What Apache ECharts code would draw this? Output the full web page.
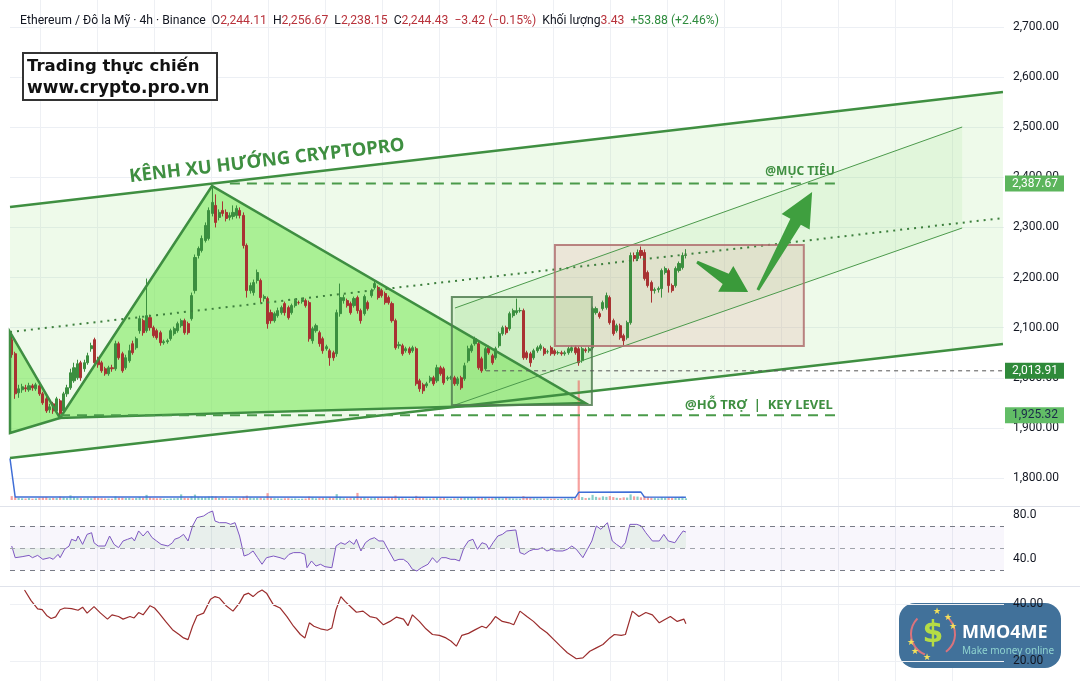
<!DOCTYPE html>
<html><head><meta charset="utf-8">
<script src="https://cdn.jsdelivr.net/npm/echarts@6/dist/echarts.min.js"></script>
<style>html,body{margin:0;padding:0;background:#fff}#c{width:1080px;height:681px}</style>
</head><body><div id="c"></div>
<script>
// ---------- DATA ----------
const candleOpen = [2076,2048,1970,1976,1980,1976,1984,1978,1984,1968,
1958,1936,1948,1934,1954,1934,1968,1980,1994,2000,
2030,2018,2030,2058,2076,2038,2030,2018,2008,2020,
2018,2068,2048,2020,2034,2068,2060,2094,2114,2094,
2120,2100,2094,2090,2070,2072,2078,2088,2094,2104,
2114,2108,2118,2174,2244,2254,2274,2278,2328,2344,
2320,2334,2330,2320,2322,2324,2334,2324,2264,2174,
2170,2194,2194,2158,2158,2130,2114,2124,2130,2148,
2140,2130,2144,2150,2152,2154,2150,2074,2094,2090,
2078,2058,2054,2050,2048,2128,2154,2154,2148,2144,
2160,2134,2128,2150,2164,2180,2180,2174,2168,2160,
2148,2114,2064,2064,2054,2058,2054,2058,1994,1986,
1984,1994,2000,1994,2020,2018,1998,2000,2000,1988,
2000,1998,2034,2054,2068,2068,2038,2018,2060,2044,
2040,2064,2088,2100,2098,2124,2130,2134,2134,2050,
2048,2040,2054,2058,2058,2052,2060,2054,2050,2050,
2048,2050,2054,2060,2058,2034,2056,2054,2060,2130,
2128,2138,2140,2160,2114,2094,2104,2084,2080,2110,
2244,2238,2254,2250,2210,2190,2174,2176,2178,2210,
2214,2184,2184,2214,2220,2244.11];
const candleClose = [2046,1968,1978,1982,1978,1984,1980,1986,1968,1950,
1934,1942,1934,1958,1928,1968,1980,2010,2020,2028,
2000,2030,2044,2064,2030,2026,2014,2008,2020,2018,
2068,2040,2014,2040,2054,2050,2078,2118,2090,2124,
2100,2084,2080,2070,2072,2074,2094,2098,2108,2114,
2090,2090,2164,2240,2258,2278,2304,2334,2350,2310,
2330,2328,2318,2324,2330,2338,2324,2264,2174,2184,
2190,2210,2160,2162,2108,2114,2128,2134,2140,2130,
2120,2144,2154,2150,2156,2144,2078,2098,2104,2068,
2054,2062,2040,2040,2130,2160,2160,2144,2130,2158,
2134,2114,2162,2138,2174,2188,2160,2164,2150,2150,
2114,2060,2066,2048,2058,2050,2060,1988,1978,1974,
1988,2000,1988,2020,2008,1990,2000,2000,1988,1998,
1980,2024,2058,2064,2078,2020,2014,2058,2050,2030,
2058,2088,2100,2090,2128,2134,2134,2134,2040,2040,
2030,2054,2060,2064,2048,2052,2048,2048,2050,2048,
2050,2058,2060,2050,2030,2058,2054,2058,2138,2138,
2122,2150,2164,2110,2088,2104,2080,2074,2110,2244,
2238,2250,2244,2198,2184,2174,2176,2178,2214,2218,
2184,2174,2218,2228,2244,2244.43];
const candleLow = [2040,1958,1960,1970,1972,1972,1974,1974,1964,1946,
1930,1930,1928,1930,1918,1930,1962,1976,1990,1996,
1994,2012,2026,2052,2024,2020,2010,2004,2004,2012,
2014,2036,2010,2016,2030,2046,2056,2088,2084,2090,
2094,2080,2076,2064,2066,2068,2074,2084,2090,2100,
2086,2086,2114,2168,2238,2250,2270,2274,2322,2300,
2314,2322,2312,2314,2316,2318,2318,2258,2160,2168,
2164,2188,2150,2152,2098,2108,2110,2120,2126,2124,
2116,2126,2140,2146,2148,2140,2072,2068,2090,2062,
2048,2054,2024,2034,2042,2122,2148,2140,2126,2140,
2128,2108,2124,2134,2160,2176,2156,2160,2146,2146,
2110,2056,2058,2044,2050,2046,2050,1984,1972,1968,
1980,1990,1984,1990,2004,1986,1994,1996,1984,1984,
1976,1994,2030,2050,2064,2016,2010,2014,2046,2026,
2036,2060,2084,2086,2094,2120,2126,2130,2036,2036,
2022,2036,2050,2054,2044,2048,2044,2044,2046,2044,
2044,2046,2050,2046,2024,2030,2050,2050,2056,2126,
2118,2134,2136,2106,2084,2090,2076,2064,2076,2106,
2232,2234,2238,2194,2180,2150,2168,2170,2160,2206,
2170,2170,2180,2210,2216,2238.15];
const candleHigh = [2084,2052,1986,1988,1986,1990,1988,1990,1988,1972,
1962,1948,1952,1962,1958,1972,1986,2018,2030,2036,
2034,2036,2050,2070,2080,2042,2034,2022,2024,2026,
2074,2072,2052,2046,2066,2074,2082,2124,2118,2198,
2126,2104,2098,2094,2076,2078,2098,2102,2112,2118,
2118,2112,2170,2246,2262,2284,2310,2340,2380,2366,
2336,2352,2336,2330,2344,2344,2340,2330,2268,2190,
2196,2216,2198,2166,2162,2136,2132,2140,2144,2152,
2144,2148,2158,2154,2160,2158,2154,2102,2108,2094,
2082,2066,2058,2054,2136,2188,2166,2158,2152,2162,
2164,2138,2166,2154,2178,2194,2184,2178,2172,2164,
2152,2118,2072,2068,2062,2062,2064,2062,1998,1990,
1992,2004,2004,2026,2024,2022,2004,2004,2004,2002,
2004,2030,2064,2068,2082,2072,2042,2062,2064,2048,
2062,2092,2104,2104,2132,2138,2158,2140,2138,2054,
2052,2058,2064,2068,2062,2056,2064,2058,2054,2054,
2054,2062,2064,2064,2062,2062,2060,2062,2142,2142,
2132,2154,2170,2164,2118,2108,2108,2088,2114,2250,
2250,2256,2262,2256,2214,2194,2180,2182,2218,2222,
2218,2188,2222,2232,2250,2256.67];
const volume = [3.2,2.6,1.8,1.4,1.2,1.6,1.1,1.3,1.9,2.2,
2.4,1.5,1.8,1.6,2.8,2.2,1.7,3.8,2.4,1.9,
1.6,1.4,1.8,1.5,2.6,1.7,1.5,1.3,1.2,1.1,
2.9,2.1,2.0,1.6,1.8,1.4,1.6,2.4,2.0,4.2,
2.2,1.6,1.4,1.5,1.1,1.0,1.3,1.4,1.6,4.6,
1.8,1.5,3.0,4.4,2.6,2.2,2.4,2.8,3.2,2.9,
1.8,1.6,1.4,1.2,1.3,1.5,1.4,2.6,3.6,2.0,
1.6,1.8,1.9,1.4,5.6,2.0,1.5,1.3,1.2,1.4,
1.5,1.2,1.3,1.0,1.1,1.2,2.8,2.0,1.4,1.8,
1.9,1.5,2.1,1.6,4.8,2.6,1.5,1.4,1.6,1.7,
5.8,1.9,2.2,1.4,1.6,1.8,1.7,1.5,1.4,1.6,
2.4,3.6,1.6,1.5,1.2,1.1,1.3,3.4,2.2,1.9,
1.4,1.3,1.5,1.9,1.6,1.8,1.2,1.1,1.3,1.4,
2.0,2.2,2.3,1.6,1.8,2.4,1.9,1.7,1.4,1.5,
1.7,1.6,1.4,1.9,1.5,1.3,1.2,1.1,3.2,1.8,
1.6,1.4,1.3,1.2,1.1,1.2,1.0,1.1,0.9,1.0,
1.1,1.2,1.3,1.5,98,2.4,1.6,1.8,4.2,2.6,
2.0,3.0,2.6,3.2,2.4,1.8,1.6,2.2,2.0,4.6,
3.0,2.8,2.2,3.4,2.6,2.0,1.6,1.4,2.4,1.8,
2.2,1.6,2.0,1.8,2.6,1.4];
const volumeMA = [[-0.5,34],[1,2.4],[60,2.4],[120,2.2],[163,2.0],[164,6.3],[182,6.5],[183,2.4],[195,2.3]];
const rsiPoints = [[0,51.8],[1,41.2],[3,42.1],[5,43.3],[6,41.2],[7.5,43.3],[9,39.7],[11,41.2],[12,39.7],[13.4,44.2],[14,41.2],[15.3,48.8],[16.6,51.8],[17.3,57.9],[18.6,56.4],[19.2,60.9],[20.5,53.3],[21.8,62.4],[23.1,63.9],[23.8,54.8],[25,51.8],[27,51.8],[28.3,60.9],[29.6,53.3],[30.9,50.3],[32.2,56.4],[33.5,57.9],[34.8,59.4],[35.5,56.4],[36.7,65.5],[38,60.9],[39.3,65.5],[40.6,59.4],[41.9,56.4],[43.2,53.3],[45.2,51.8],[46.5,54.8],[47.1,57.9],[48.4,59.4],[49.7,62.4],[51,56.4],[52.3,70],[53.6,77.6],[55.5,79.1],[56.9,82.1],[58.1,83.6],[58.8,74.5],[60.1,73],[62,73],[63.3,71.5],[64.6,73],[65.9,60.9],[67.2,42.7],[68.5,44.2],[69.8,47.3],[71.1,41.2],[72.4,35.2],[73.7,41.2],[75.7,42.7],[77.6,41.2],[78.9,39.7],[80.2,44.2],[81.5,45.8],[83.5,45.8],[84.8,44.2],[85.4,32.1],[86.7,38.2],[88,33.6],[89.3,35.2],[90.6,33],[92.6,32.1],[93.8,51.8],[95.2,54.8],[96.4,53.3],[97.7,56.4],[99,53.3],[99.7,57.9],[101,47.3],[102.3,54.8],[103.6,57.9],[104.9,59.4],[106.2,56.4],[107.5,56.4],[108.8,48.8],[110.7,38.2],[112,39.7],[113.3,39.7],[114.6,36.7],[115.9,30.6],[117.2,29.1],[118.5,32.1],[120.4,35.2],[121.7,41.2],[123,36.7],[124.3,41.2],[125.6,41.2],[127,39.7],[128.2,39.7],[129.5,38.2],[130.8,50.3],[132.1,56.4],[133.4,57.9],[134.7,48.8],[136,54.8],[137.3,53.3],[138,48.8],[139.2,54.8],[140.6,60.9],[141.9,62.4],[143.2,65.5],[145.8,66.4],[147,45.8],[148.3,44.2],[149.7,47.3],[151,48.8],[152.2,48.8],[153.5,50.3],[154.8,47.3],[156.1,48.8],[157.4,47.3],[159.4,47.3],[160.7,48.8],[162,51.8],[163.3,48.8],[165.2,41.2],[166.5,48.8],[167.8,56.4],[169.1,70],[170.4,67],[172.3,73],[173.7,56.4],[174.9,53.3],[176.3,50.3],[177.5,54.8],[178.8,71.5],[180.8,71.5],[182.1,70],[183.4,63.9],[185.3,56.4],[187.3,56.4],[188.6,62.4],[189.9,56.4],[191.8,54.8],[193.1,60.9],[194.2,65.5],[195,64.5]];
const oscPoints = [[3.7,44.9],[5.6,41.2],[7.5,38.3],[8.8,38],[10.1,36],[11.4,34.9],[12.7,35.5],[14,38],[15.3,38.6],[17.3,38.4],[19.2,37.8],[20.5,38.9],[21.8,36.8],[23.8,39.1],[25.7,36.8],[27.7,34.7],[29,36.2],[30.9,35.6],[32.2,34.7],[34.2,35.6],[35.4,35.1],[36.7,37],[38,36.2],[40,39.4],[41.3,38.6],[42.6,36.8],[44.5,33.9],[46.5,31],[48.4,29.3],[49.7,28.1],[51,27.5],[52.3,32.2],[53.6,35.9],[55.5,36.8],[57.5,41.7],[58.8,42.6],[60.1,42.1],[62,39.4],[64,37.5],[65.9,40.4],[67.2,43.2],[68.5,43.8],[69.8,42.6],[71.1,44],[72.4,44.9],[73.7,43.8],[75.7,39.7],[77.6,38.6],[79.6,35.6],[81.5,32.2],[83.5,29.3],[84.8,28.1],[86.1,33.4],[87.4,32.2],[89.3,31.3],[91.3,30.8],[92.6,31.6],[93.8,38],[95.2,42.6],[96.4,40.9],[98.4,38.6],[99.7,37.1],[101.6,37.5],[103.6,35.6],[105.5,35.1],[107.5,32.7],[109.4,33.9],[111.3,35.4],[113.3,34.7],[114.6,32.4],[115.9,36.2],[117.9,33.9],[119.8,31.3],[121.7,29.3],[123.7,29],[125.6,28.1],[127,27],[128.6,25.2],[130.2,29],[132.1,29.7],[134.1,31],[136,32.2],[137.3,31.6],[138.6,33.4],[139.9,35.6],[141.9,33.9],[143.8,33.4],[145.2,32.7],[147,37.5],[149,35.6],[150.9,33.9],[152.9,31.6],[154.8,29.9],[156.8,27.5],[158.7,25.2],[160.7,22.9],[163.3,20.8],[165.2,21.1],[167.2,23.4],[169.1,24.6],[171,25.8],[173,28.1],[174.3,29.3],[176.3,29],[177.5,29.3],[179.5,37.5],[181.4,35.6],[183.4,37],[185.3,36.2],[187.3,33.4],[188.8,34.5],[190.5,35.6],[192.5,33.9],[194.4,34.7],[195,33.1]];

// drawings, in (bar slot, price)
const channelUpper = [[-0.5,2340.8],[286.7,2570.3]];
const channelLower = [[-0.5,1840.0],[286.7,2067.5]];
const midLine = [[-0.5,2091.3],[286.7,2318.8]];
const thinUpper = [[128.2,2139.2],[274.9,2500.4]];
const thinLower = [[128.2,1945.7],[274.9,2298.9]];
const leftTriangle = [[-0.5,2091.3],[13.96,1919.7],[-0.5,1889.8]];
const mainTriangle = [[13.96,1919.7],[57.93,2382.7],[165.8,1949.7]];
const greenBox = [[127.3,2161.2],[167.8,1945.7]];
const redBox = [[157.1,2265.0],[229.1,2063.4]];
const targetLevel = {price:2387.67, from:63.1, to:239.0};
const supportLevel = {price:1925.32, from:13.96, to:239.0};
const keyLevel = {price:2013.91, from:137.2, to:286.7};
const arrowDown = [[198.2,2231.0],[213.0,2171.2]];
const arrowUp = [[215.8,2175.2],[231.5,2370.7]];
const channelTitle = {text:'KÊNH XU HƯỚNG CRYPTOPRO', at:[73.8,2432.6]};
const targetLabel = {text:'@MỤC TIÊU', at:[228.0,2410.6]};
const supportLabel = {text:'@HỖ TRỢ  |  KEY LEVEL', at:[216.1,1945.7]};

// ---------- CHART ----------
const chart = echarts.init(document.getElementById('c'));
const UP='#3b8f3f', DOWN='#a83232';
const fmt2 = v => v.toLocaleString('en-US',{minimumFractionDigits:2,maximumFractionDigits:2});
const candles = candleOpen.map((o,i)=>[i,o,candleClose[i],candleLow[i],candleHigh[i]]);
const volData = volume.map((v,i)=>({value:[i,v],itemStyle:{color: candleClose[i]>=candleOpen[i]?'rgba(38,166,154,0.55)':'rgba(239,83,80,0.55)'}}));

function arrowPts(t,p,headLen,headHalf,tailHalf,neckHalf){
  const dx=p[0]-t[0], dy=p[1]-t[1], L=Math.hypot(dx,dy), ux=dx/L, uy=dy/L, nx=-uy, ny=ux;
  const bx=p[0]-ux*headLen, by=p[1]-uy*headLen;
  return [[t[0]+nx*tailHalf,t[1]+ny*tailHalf],[bx+nx*neckHalf,by+ny*neckHalf],[bx+nx*headHalf,by+ny*headHalf],[p[0],p[1]],
          [bx-nx*headHalf,by-ny*headHalf],[bx-nx*neckHalf,by-ny*neckHalf],[t[0]-nx*tailHalf,t[1]-ny*tailHalf]];
}

const xCommon = {type:'value', min:-0.5, max:287, show:false};
const gb = {outerBoundsMode:'none', containLabel:false};
const HF = '12.2px Roboto';

const option = {
  animation:false,
  backgroundColor:'#ffffff',
  grid:[
    Object.assign({left:10, right:76, top:-23.11, bottom:152.89}, gb),
    Object.assign({left:10, right:76, top:378, bottom:181}, gb),
    Object.assign({left:10, right:76, top:471, bottom:78}, gb),
    Object.assign({left:10, right:76, top:547, bottom:-37}, gb),
    Object.assign({left:-17, right:76, top:0, bottom:0}, gb)
  ],
  xAxis:[
    Object.assign({gridIndex:0},xCommon),
    Object.assign({gridIndex:1},xCommon),
    Object.assign({gridIndex:2},xCommon),
    Object.assign({gridIndex:3},xCommon),
    {gridIndex:4, type:'value', min:0, max:17.912, interval:1, axisLine:{show:false}, axisTick:{show:false}, axisLabel:{show:false},
     splitLine:{show:true, showMinLine:false, showMaxLine:false, lineStyle:{color:'#eef0f4', width:1}}}
  ],
  yAxis:[
    {gridIndex:0, type:'value', position:'right', min:1700, max:2800, interval:100,
     axisLine:{show:false}, axisTick:{show:false},
     axisLabel:{showMinLabel:false, showMaxLabel:false, margin:9, color:'#131722', fontFamily:'Roboto', fontSize:12, formatter:fmt2},
     splitLine:{show:true, showMinLine:false, showMaxLine:false, lineStyle:{color:'#eceff4'}}},
    {gridIndex:1, type:'value', min:0, max:100, show:false},
    {gridIndex:2, type:'value', position:'right', min:0, max:120, interval:40,
     axisLine:{show:false}, axisTick:{show:false}, splitLine:{show:false},
     axisLabel:{showMinLabel:false, showMaxLabel:false, margin:9, color:'#131722', fontFamily:'Roboto', fontSize:12, formatter:v=>v.toFixed(1)}},
    {gridIndex:3, type:'value', position:'right', min:0, max:60, interval:20, z:10,
     axisLine:{show:false}, axisTick:{show:false},
     axisLabel:{showMinLabel:false, showMaxLabel:false, margin:9, color:'#131722', fontFamily:'Roboto', fontSize:12, formatter:v=>v.toFixed(2)},
     splitLine:{show:true, showMinLine:false, showMaxLine:false, lineStyle:{color:'#eef0f4'}}},
    {gridIndex:4, type:'value', show:false}
  ],
  graphic:[
    {type:'line', z:50, shape:{x1:0,y1:506.5,x2:1080,y2:506.5}, style:{stroke:'#e0e3eb', lineWidth:1}},
    {type:'line', z:50, shape:{x1:0,y1:586.5,x2:1080,y2:586.5}, style:{stroke:'#e0e3eb', lineWidth:1}},
    {type:'text', z:60, x:20, y:21, style:{
      text:'{d|Ethereum / Đô la Mỹ · 4h · Binance}  {d|O}{r|2,244.11}  {d|H}{r|2,256.67}  {d|L}{r|2,238.15}  {d|C}{r|2,244.43}  {r|−3.42 (−0.15%)}  {d|Khối lượng}{r|3.43}  {g|+53.88 (+2.46%)}',
      font:HF, fill:'#131722', verticalAlign:'middle',
      rich:{d:{fill:'#131722', font:HF}, r:{fill:'#b8323b', font:HF}, g:{fill:'#2e8b3e', font:HF}}}},
    {type:'rect', z:60, shape:{x:23,y:53,width:194,height:47}, style:{fill:'#ffffff', stroke:'#333333', lineWidth:2}},
    {type:'text', z:61, x:27, y:67, style:{text:'Trading thực chiến', font:'bold 16.5px "DejaVu Sans"', fill:'#111111', verticalAlign:'middle'}},
    {type:'text', z:61, x:27, y:89, style:{text:'www.crypto.pro.vn', font:'bold 17px "DejaVu Sans"', fill:'#111111', verticalAlign:'middle'}},
    {type:'group', z:1, children:[
      {type:'rect', z:1, shape:{x:899,y:603,width:162,height:65,r:16}, style:{fill:'#41719a'}},
      {type:'arc', z:2, shape:{cx:933,cy:634,r:22,startAngle:Math.PI*0.62,endAngle:Math.PI*1.25}, style:{stroke:'#d9737d', lineWidth:2, fill:null}},
      {type:'arc', z:2, shape:{cx:933,cy:634,r:22,startAngle:-Math.PI*0.3,endAngle:Math.PI*0.3}, style:{stroke:'#d9737d', lineWidth:2, fill:null}},
      {type:'text', z:3, x:933, y:634, style:{text:'$', font:'bold 30px "DejaVu Sans"', fill:'#b5dc45', align:'center', verticalAlign:'middle'}},
      {type:'text', z:3, x:937, y:612, style:{text:'★', font:'9px "DejaVu Sans"', fill:'#f4e15a', align:'center', verticalAlign:'middle'}},
      {type:'text', z:3, x:948, y:618, style:{text:'★', font:'9px "DejaVu Sans"', fill:'#f4e15a', align:'center', verticalAlign:'middle'}},
      {type:'text', z:3, x:953, y:627, style:{text:'★', font:'9px "DejaVu Sans"', fill:'#f4e15a', align:'center', verticalAlign:'middle'}},
      {type:'text', z:3, x:911, y:643, style:{text:'★', font:'9px "DejaVu Sans"', fill:'#f4e15a', align:'center', verticalAlign:'middle'}},
      {type:'text', z:3, x:915, y:652, style:{text:'★', font:'9px "DejaVu Sans"', fill:'#f4e15a', align:'center', verticalAlign:'middle'}},
      {type:'text', z:3, x:927, y:658, style:{text:'★', font:'9px "DejaVu Sans"', fill:'#f4e15a', align:'center', verticalAlign:'middle'}},
      {type:'text', z:3, x:962, y:633, style:{text:'MMO4ME', font:'bold 18px "Noto Sans"', fill:'#ffffff', verticalAlign:'middle'}},
      {type:'text', z:3, x:962, y:651, style:{text:'Make money online', font:'10px "Noto Sans"', fill:'#8fd3cf', verticalAlign:'middle'}}
    ]}
  ],
  series:[
    {type:'custom', name:'fills', xAxisIndex:0, yAxisIndex:0, z:1, silent:true, clip:false, data:[[0,2000]],
     renderItem:(params, api)=>{
       const P = pt => api.coord(pt);
       const rectOf = b => { const a=P(b[0]), c=P(b[1]); return {x:Math.min(a[0],c[0]), y:Math.min(a[1],c[1]), width:Math.abs(c[0]-a[0]), height:Math.abs(c[1]-a[1])}; };
       return {type:'group', children:[
         {type:'polygon', shape:{points:[P(channelUpper[0]),P(channelUpper[1]),P(channelLower[1]),P(channelLower[0])]}, style:{fill:'rgba(163,230,140,0.18)'}},
         {type:'polygon', shape:{points:[P(thinUpper[0]),P(thinUpper[1]),P(thinLower[1]),P(thinLower[0])]}, style:{fill:'rgba(150,225,125,0.14)'}},
         {type:'polygon', shape:{points:leftTriangle.map(P)}, style:{fill:'rgba(120,233,88,0.58)'}},
         {type:'polygon', shape:{points:mainTriangle.map(P)}, style:{fill:'rgba(120,233,88,0.58)'}},
         {type:'rect', shape:rectOf(greenBox), style:{fill:'rgba(140,215,120,0.22)'}},
         {type:'rect', shape:rectOf(redBox), style:{fill:'rgba(220,140,140,0.18)'}}
       ]};
     }},
    {type:'candlestick', xAxisIndex:0, yAxisIndex:0, z:3, barWidth:2.6, data:candles, encode:{x:0, y:[1,2,3,4]},
     itemStyle:{color:UP, color0:DOWN, borderColor:UP, borderColor0:DOWN, borderWidth:1}},
    {type:'bar', xAxisIndex:1, yAxisIndex:1, z:2, barWidth:2.2, data:volData},
    {type:'line', xAxisIndex:1, yAxisIndex:1, z:2, data:volumeMA, symbol:'none', lineStyle:{color:'#3f6ed6', width:1.5}},
    {type:'custom', name:'drawings', xAxisIndex:0, yAxisIndex:0, z:6, silent:true, clip:false, data:[[0,2000]],
     renderItem:(params, api)=>{
       const P = pt => api.coord(pt);
       const cs = params.coordSys;
       const rightX = cs.x + cs.width;
       const rectOf = b => { const a=P(b[0]), c=P(b[1]); return {x:Math.min(a[0],c[0]), y:Math.min(a[1],c[1]), width:Math.abs(c[0]-a[0]), height:Math.abs(c[1]-a[1])}; };
       const hline = (lv, style) => ({type:'line', shape:{x1:P([lv.from,lv.price])[0], y1:P([lv.from,lv.price])[1], x2:P([lv.to,lv.price])[0], y2:P([lv.to,lv.price])[1]}, style});
       const u0=P(channelUpper[0]), u1=P(channelUpper[1]);
       const ang = -Math.atan2(u1[1]-u0[1], u1[0]-u0[0]);
       const tp=P(channelTitle.at), tl=P(targetLabel.at), sl=P(supportLabel.at);
       const priceTag = (price, bg, fg) => { const y=P([0,price])[1]; return {type:'text', x:rightX+1, y:y, style:{text:fmt2(price), font:'12px Roboto', fill:fg, backgroundColor:bg, padding:[2,6,2,7], verticalAlign:'middle', align:'left'}}; };
       return {type:'group', children:[
         {type:'polyline', shape:{points:channelUpper.map(P)}, style:{stroke:'#3f8f41', lineWidth:2.5, fill:null}},
         {type:'polyline', shape:{points:channelLower.map(P)}, style:{stroke:'#3f8f41', lineWidth:2.5, fill:null}},
         {type:'polyline', shape:{points:midLine.map(P)}, style:{stroke:'#3d7f3d', lineWidth:2, lineDash:[2,5], fill:null}},
         {type:'polyline', shape:{points:thinUpper.map(P)}, style:{stroke:'#4c9a4c', lineWidth:1, fill:null}},
         {type:'polyline', shape:{points:thinLower.map(P)}, style:{stroke:'#4c9a4c', lineWidth:1, fill:null}},
         {type:'polygon', shape:{points:leftTriangle.map(P)}, style:{stroke:'#3e8e41', lineWidth:2.5, fill:null}},
         {type:'polygon', shape:{points:mainTriangle.map(P)}, style:{stroke:'#3e8e41', lineWidth:2.5, fill:null}},
         {type:'rect', shape:rectOf(greenBox), style:{stroke:'rgba(80,125,80,0.85)', lineWidth:2, fill:null}},
         {type:'rect', shape:rectOf(redBox), style:{stroke:'rgba(175,110,110,0.85)', lineWidth:2, fill:null}},
         hline(targetLevel, {stroke:'#4a9a4a', lineWidth:2, lineDash:[10,7]}),
         hline(supportLevel, {stroke:'#4a9a4a', lineWidth:2, lineDash:[10,7]}),
         hline(keyLevel, {stroke:'#555555', lineWidth:1, lineDash:[4,4]}),
         {type:'polygon', shape:{points:arrowPts(P(arrowDown[0]),P(arrowDown[1]),26,15,1.5,6)}, style:{fill:'#3a9a3a'}},
         {type:'polygon', shape:{points:arrowPts(P(arrowUp[0]),P(arrowUp[1]),34,16,1.5,6)}, style:{fill:'#3f9f3f'}},
         {type:'text', x:tp[0], y:tp[1], rotation:ang, style:{text:channelTitle.text, font:'bold 18.5px "Noto Sans"', fill:'#3f8f41', align:'center', verticalAlign:'middle'}},
         {type:'text', x:tl[0], y:tl[1], style:{text:targetLabel.text, font:'bold 12px "Noto Sans"', fill:'#3f8f41', align:'center', verticalAlign:'middle'}},
         {type:'text', x:sl[0], y:sl[1], style:{text:supportLabel.text, font:'bold 13px "Noto Sans"', fill:'#3f8f41', align:'center', verticalAlign:'middle'}},
         priceTag(targetLevel.price, '#5cb55c', '#ffffff'),
         priceTag(keyLevel.price, '#2f8a3a', '#ffffff'),
         priceTag(supportLevel.price, '#62bd66', '#1b2a4a')
       ]};
     }},
    {type:'line', xAxisIndex:2, yAxisIndex:2, data:rsiPoints, symbol:'none', z:3,
     lineStyle:{color:'#7e57c2', width:1},
     areaStyle:{origin:50, color:'rgba(76,175,80,0.13)'},
     markArea:{silent:true, itemStyle:{color:'rgba(126,87,194,0.05)'}, data:[[{yAxis:30},{yAxis:70}]]},
     markLine:{silent:true, symbol:'none', label:{show:false},
       data:[{yAxis:70, lineStyle:{color:'#787b86', type:[5,5], width:1}},
             {yAxis:50, lineStyle:{color:'#a0a3ab', type:[5,5], width:1}},
             {yAxis:30, lineStyle:{color:'#787b86', type:[5,5], width:1}}]}},
    {type:'line', xAxisIndex:3, yAxisIndex:3, data:oscPoints, symbol:'none', z:3, lineStyle:{color:'#9b2d2d', width:1.2}}
  ]
};
chart.setOption(option);
</script></body></html>
